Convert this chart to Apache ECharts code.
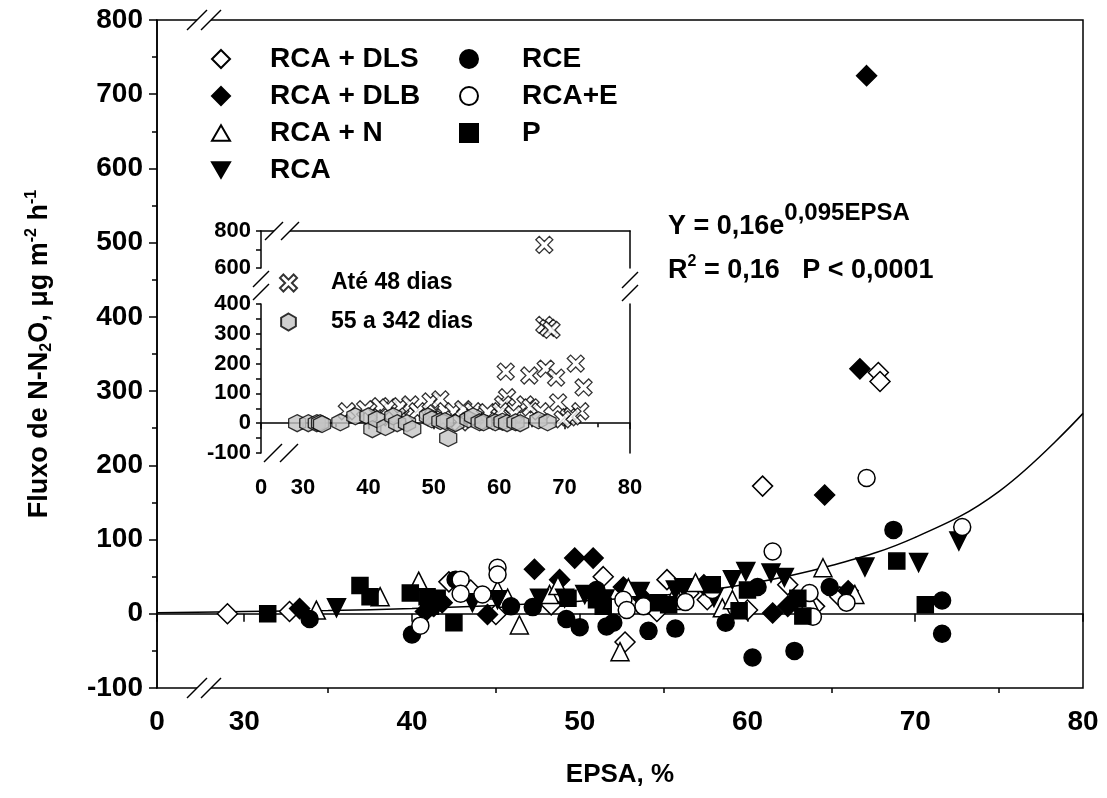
<!DOCTYPE html>
<html>
<head>
<meta charset="utf-8">
<script src="https://cdn.jsdelivr.net/npm/echarts@6/dist/echarts.min.js"></script>
<style>
  html, body { margin: 0; background: #fff; }
  #chart { width: 1107px; height: 798px; }
</style>
</head>
<body>
<div id="chart"></div>
<script>
// main plot, EPSA (%) vs N-N2O flux
var rcaDls = [[29.0,0],[32.7,3],[42.2,43],[43.5,32],[45.0,-1],[48.3,12],[51.4,50],[52.7,-38],[54.6,3],[55.2,46],[56.5,28],[57.6,19],[60.0,5],[60.9,172],[62.4,39],[64.0,10],[65.5,23],[67.8,325],[67.9,313]];
var rcaDlb = [[33.3,7],[40.8,3],[41.3,10],[41.8,15],[44.5,-1],[47.3,60],[48.8,46],[49.7,75],[50.8,75],[52.6,36],[53.8,20],[57.4,39],[61.5,1],[62.4,10],[62.8,18],[64.6,160],[66.0,31],[66.7,330],[67.1,725]];
var rcaN = [[34.3,5],[38.1,23],[40.4,44],[45.1,32],[45.7,21],[46.4,-15],[48.2,26],[48.7,38],[52.4,-51],[52.9,35],[55.5,18],[56.9,42],[58.5,8],[59.1,19],[63.7,16],[64.5,62],[66.4,26]];
var rca = [[35.5,8],[41.2,10],[43.6,15],[45.1,19],[47.6,21],[49.1,21],[50.3,26],[51.5,20],[53.6,30],[55.7,32],[56.2,35],[58.0,22],[59.1,46],[59.9,57],[61.4,55],[62.2,49],[67.0,63],[70.2,69],[72.6,98]];
var rce = [[33.9,-7],[40.0,-28],[41.0,15],[42.6,46],[45.9,10],[47.2,9],[49.2,-7],[50.0,-18],[51.0,32],[51.6,-17],[52.0,-12],[54.1,-23],[55.7,-20],[58.7,-12],[60.3,-59],[60.6,36],[62.8,-50],[64.9,36],[68.7,113],[71.6,18],[71.6,-27]];
var rcaE = [[40.5,-16],[42.9,46],[42.9,27],[44.2,26],[45.1,62],[45.1,53],[52.6,19],[52.8,5],[53.8,10],[56.3,16],[57.9,32],[61.5,84],[63.7,28],[63.9,-4],[65.9,15],[67.1,183],[72.8,117]];
var pData = [[31.4,0],[36.9,38],[37.5,23],[39.9,28],[40.9,23],[41.5,21],[41.1,10],[42.5,-12],[49.3,21],[51.0,19],[51.4,10],[54.7,15],[55.3,12],[57.9,39],[59.5,4],[60.0,32],[63.0,21],[63.3,-3],[68.9,71],[70.6,12]];

// fitted curve
var fitX = [24.8, 30, 35, 40, 45, 50, 55, 60, 65, 70, 75, 80];
var fitY = [1.5, 3, 4.5, 7, 11, 17, 25, 40, 65, 103, 165, 270];

// inset
var ate48 = [[66.9,725],[66.9,330],[67.5,320],[68.0,313],[61.0,173],[64.6,160],[67.1,183],[68.7,153],[71.7,200],[72.9,120],[69.0,70],[72.4,40],[70.6,20],[71.2,23],[69.7,13],[61.2,87],[60.6,63],[64.0,63],[64.8,53],[66.3,40],[36.7,40],[39.5,47],[41.8,57],[43.0,53],[44.9,57],[46.4,63],[47.5,40],[49.5,73],[51.0,80],[49.9,20],[53.0,40],[54.5,47],[56.0,40],[58.2,37],[60.2,40],[62.2,30],[41.8,20],[44.4,23],[51.4,13],[54.0,3],[58.2,7]];
var d55a342 = [[29.1,0],[30.8,0],[32.1,0],[32.6,0],[32.9,-3],[35.7,3],[38.0,23],[40.0,23],[40.6,-20],[41.3,13],[42.6,-13],[43.8,23],[44.4,0],[45.9,0],[46.7,-20],[49.1,23],[49.7,13],[51.0,7],[51.7,7],[52.2,-50],[53.3,0],[55.3,13],[56.0,23],[57.0,3],[57.6,3],[59.4,3],[60.5,5],[61.2,0],[62.5,3],[63.2,0],[66.0,10],[67.4,3]];

var xMajor = [30, 40, 50, 60, 70, 80];
var xMinor = [35, 45, 55, 65, 75];

var FONT = 'Liberation Sans, Arial, sans-serif';
var MAIN_XMIN = 24.8;   // where the broken axis shows "0"
var INSET_XMIN = 23.57;
var INSET_SPLIT = 500;  // lower/upper inset panel

var chart = echarts.init(document.getElementById('chart'));

var diamond = 'path://M5,0 L10,5 L5,10 L0,5 Z';
var square = 'path://M0,0 L10,0 L10,10 L0,10 Z';
var downTri = 'path://M0,0 L10,0 L5,8.7 Z';
var upTri = 'path://M5,0 L10,8.7 L0,8.7 Z';
var cross = 'path://M2,0 L5,3 L8,0 L10,2 L7,5 L10,8 L8,10 L5,7 L2,10 L0,8 L3,5 L0,2 Z';
var hexagon = 'path://M5,0 L9.33,2.5 L9.33,7.5 L5,10 L0.67,7.5 L0.67,2.5 Z';

function sc(name, data, symbol, fill, size) {
  return {
    name: name, type: 'scatter', xAxisIndex: 0, yAxisIndex: 0,
    data: data, symbol: symbol, symbolSize: size,
    itemStyle: { color: fill, borderColor: '#000', borderWidth: 1.5, opacity: 1 },
    emphasis: { disabled: true }
  };
}

function lab(v) {
  return v < 29 ? '0' : String(v);
}

function boldTxt(size) {
  return { fontSize: size, fontWeight: 'bold', color: '#000', fontFamily: FONT };
}

var lower = function (arr) { return arr.filter(function (d) { return d[1] < INSET_SPLIT; }); };
var upper = function (arr) { return arr.filter(function (d) { return d[1] >= INSET_SPLIT; }); };

function slash(cx, cy, dx, dy) {
  return { type: 'line', z: 100, shape: { x1: cx - dx, y1: cy + dy, x2: cx + dx, y2: cy - dy },
           style: { stroke: '#000', lineWidth: 1.5 } };
}
function gapFill(cx1, cx2, cy, d) {
  return { type: 'polygon', z: 99,
           shape: { points: [[cx1 - d, cy + d], [cx1 + d, cy - d], [cx2 + d, cy - d], [cx2 - d, cy + d]] },
           style: { fill: '#fff' } };
}

var axLine = { color: '#000', width: 1.5 };

var option = {
  backgroundColor: '#fff',
  animation: false,
  grid: [
    { left: 157, top: 20, width: 926, height: 668, show: true, borderColor: '#000', borderWidth: 1.5, backgroundColor: 'transparent' },
    { left: 261, top: 304, width: 369, height: 149 },
    { left: 261, top: 231, width: 369, height: 37 }
  ],
  xAxis: [
    { gridIndex: 0, type: 'value', min: MAIN_XMIN, max: 80, position: 'bottom',
      axisLine: { lineStyle: axLine },
      axisTick: { customValues: [MAIN_XMIN].concat(xMajor), length: 8, lineStyle: axLine },
      axisLabel: Object.assign({ customValues: [MAIN_XMIN].concat(xMajor), formatter: lab, margin: 20 }, boldTxt(28)),
      splitLine: { show: false },
      name: 'EPSA, %', nameLocation: 'middle', nameGap: 74, nameTextStyle: boldTxt(26) },
    { gridIndex: 0, type: 'value', min: MAIN_XMIN, max: 80, position: 'bottom',
      axisLine: { show: false },
      axisTick: { customValues: xMinor, length: 5, lineStyle: axLine },
      axisLabel: { show: false }, splitLine: { show: false } },
    { gridIndex: 1, type: 'value', min: INSET_XMIN, max: 80, position: 'bottom',
      axisLine: { lineStyle: axLine },
      axisTick: { customValues: [INSET_XMIN].concat(xMajor), length: 6, lineStyle: axLine },
      axisLabel: Object.assign({ customValues: [INSET_XMIN].concat(xMajor), formatter: lab, margin: 24 }, boldTxt(22)),
      splitLine: { show: false } },
    { gridIndex: 1, type: 'value', min: INSET_XMIN, max: 80, position: 'bottom',
      axisLine: { show: false },
      axisTick: { customValues: xMinor, length: 4, lineStyle: axLine },
      axisLabel: { show: false }, splitLine: { show: false } },
    { gridIndex: 2, type: 'value', min: INSET_XMIN, max: 80, position: 'top',
      axisLine: { lineStyle: axLine },
      axisTick: { show: false }, axisLabel: { show: false }, splitLine: { show: false } }
  ],
  yAxis: [
    { gridIndex: 0, type: 'value', min: -100, max: 800, interval: 100,
      axisLine: { show: true, lineStyle: axLine },
      axisTick: { show: true, length: 8, lineStyle: axLine },
      minorTick: { show: true, splitNumber: 2, length: 5, lineStyle: axLine },
      axisLabel: Object.assign({ margin: 14 }, boldTxt(28)),
      splitLine: { show: false },
      name: 'Fluxo de N-N{sub|2}O, μg m{sup|-2} h{sup|-1}',
      nameLocation: 'middle', nameGap: 102, nameRotate: 90,
      nameTextStyle: Object.assign(boldTxt(27), {
        rich: {
          sub: { fontSize: 16, fontWeight: 'bold', fontFamily: FONT, color: '#000', padding: [15, 0, 0, 0] },
          sup: { fontSize: 16, fontWeight: 'bold', fontFamily: FONT, color: '#000', padding: [0, 0, 15, 0] }
        }
      }) },
    { gridIndex: 1, type: 'value', min: -100, max: 400, interval: 100,
      axisLine: { show: true, lineStyle: axLine },
      axisTick: { show: true, length: 5, lineStyle: axLine },
      minorTick: { show: true, splitNumber: 2, length: 5, lineStyle: axLine },
      axisLabel: Object.assign({ margin: 10 }, boldTxt(22)), splitLine: { show: false } },
    { gridIndex: 2, type: 'value', min: 600, max: 800, interval: 100,
      axisLine: { show: true, lineStyle: axLine },
      axisTick: { show: true, length: 5, lineStyle: axLine },
      axisLabel: Object.assign({ margin: 10, formatter: function (v) { return v === 700 ? '' : String(v); } }, boldTxt(22)),
      splitLine: { show: false } },
    { gridIndex: 1, type: 'value', min: -100, max: 400, position: 'right',
      axisLine: { show: true, lineStyle: axLine },
      axisTick: { show: false }, axisLabel: { show: false }, splitLine: { show: false } },
    { gridIndex: 2, type: 'value', min: 600, max: 800, position: 'right',
      axisLine: { show: true, lineStyle: axLine },
      axisTick: { show: false }, axisLabel: { show: false }, splitLine: { show: false } }
  ],
  legend: [
    { data: ['RCA + DLS', 'RCA + DLB', 'RCA + N', 'RCA'], orient: 'vertical', left: 211, top: 45,
      itemWidth: 18, itemHeight: 18, itemGap: 9, padding: 0, selectedMode: false,
      textStyle: Object.assign(boldTxt(28), { lineHeight: 28, padding: [0, 0, 0, 35] }) },
    { data: ['RCE', 'RCA+E', 'P'], orient: 'vertical', left: 459, top: 45,
      itemWidth: 18, itemHeight: 18, itemGap: 9, padding: 0, selectedMode: false,
      textStyle: Object.assign(boldTxt(28), { lineHeight: 28, padding: [0, 0, 0, 39] }) },
    { data: ['Até 48 dias', '55 a 342 dias'], orient: 'vertical', left: 279, top: 270,
      itemWidth: 17, itemHeight: 17, itemGap: 13, padding: 0, selectedMode: false,
      textStyle: Object.assign(boldTxt(23), { lineHeight: 26, padding: [0, 0, 0, 29] }) }
  ],
  graphic: [
    // main axis breaks
    gapFill(197, 211, 20, 10), slash(197, 20, 10, 10), slash(211, 20, 10, 10),
    gapFill(197, 211, 688, 10), slash(197, 688, 10, 10), slash(211, 688, 10, 10),
    // inset breaks
    gapFill(274, 290, 231, 9), slash(274, 231, 9, 9), slash(290, 231, 9, 9),
    gapFill(273, 289, 453, 9), slash(273, 453, 9, 9), slash(289, 453, 9, 9),
    slash(261, 279, 8, 8), slash(261, 292, 8, 8),
    slash(630, 280, 8, 8), slash(630, 293, 8, 8),
    { type: 'text', x: 668, y: 227, z: 100,
      style: { text: 'Y = 0,16e{s|0,095EPSA}', fill: '#000', fontSize: 27, fontWeight: 'bold', fontFamily: FONT,
               verticalAlign: 'middle',
               rich: { s: { fontSize: 24, fontWeight: 'bold', fontFamily: FONT, fill: '#000', padding: [0, 0, 28, 0] } } } },
    { type: 'text', x: 668, y: 271, z: 100,
      style: { text: 'R{s|2} = 0,16   P < 0,0001', fill: '#000', fontSize: 27, fontWeight: 'bold', fontFamily: FONT,
               verticalAlign: 'middle',
               rich: { s: { fontSize: 16, fontWeight: 'bold', fontFamily: FONT, fill: '#000', padding: [0, 0, 18, 0] } } } }
  ],
  series: [
    { name: 'fit', type: 'line', xAxisIndex: 0, yAxisIndex: 0, smooth: 0.4, symbol: 'none',
      data: fitX.map(function (x, i) { return [x, fitY[i]]; }),
      lineStyle: { color: '#000', width: 1.5 }, z: 1, silent: true },
    sc('RCA + DLS', rcaDls, diamond, '#fff', 20),
    sc('RCA + DLB', rcaDlb, diamond, '#000', 20),
    sc('RCA + N', rcaN, upTri, '#fff', 18),
    sc('RCA', rca, downTri, '#000', 18),
    sc('RCE', rce, 'circle', '#000', 17),
    sc('RCA+E', rcaE, 'circle', '#fff', 17),
    sc('P', pData, square, '#000', 16),
    { name: 'Até 48 dias', type: 'scatter', xAxisIndex: 2, yAxisIndex: 1, data: lower(ate48),
      symbol: cross, symbolSize: 17, itemStyle: { color: '#fff', borderColor: '#000', borderWidth: 1.3 } },
    { name: 'Até 48 dias', type: 'scatter', xAxisIndex: 4, yAxisIndex: 2, data: upper(ate48),
      symbol: cross, symbolSize: 17, itemStyle: { color: '#fff', borderColor: '#000', borderWidth: 1.3 } },
    { name: '55 a 342 dias', type: 'scatter', xAxisIndex: 2, yAxisIndex: 1, data: lower(d55a342),
      symbol: hexagon, symbolSize: 17, itemStyle: { color: '#c4c4c4', borderColor: '#000', borderWidth: 1.3 } }
  ]
};

chart.setOption(option);
</script>
</body>
</html>
